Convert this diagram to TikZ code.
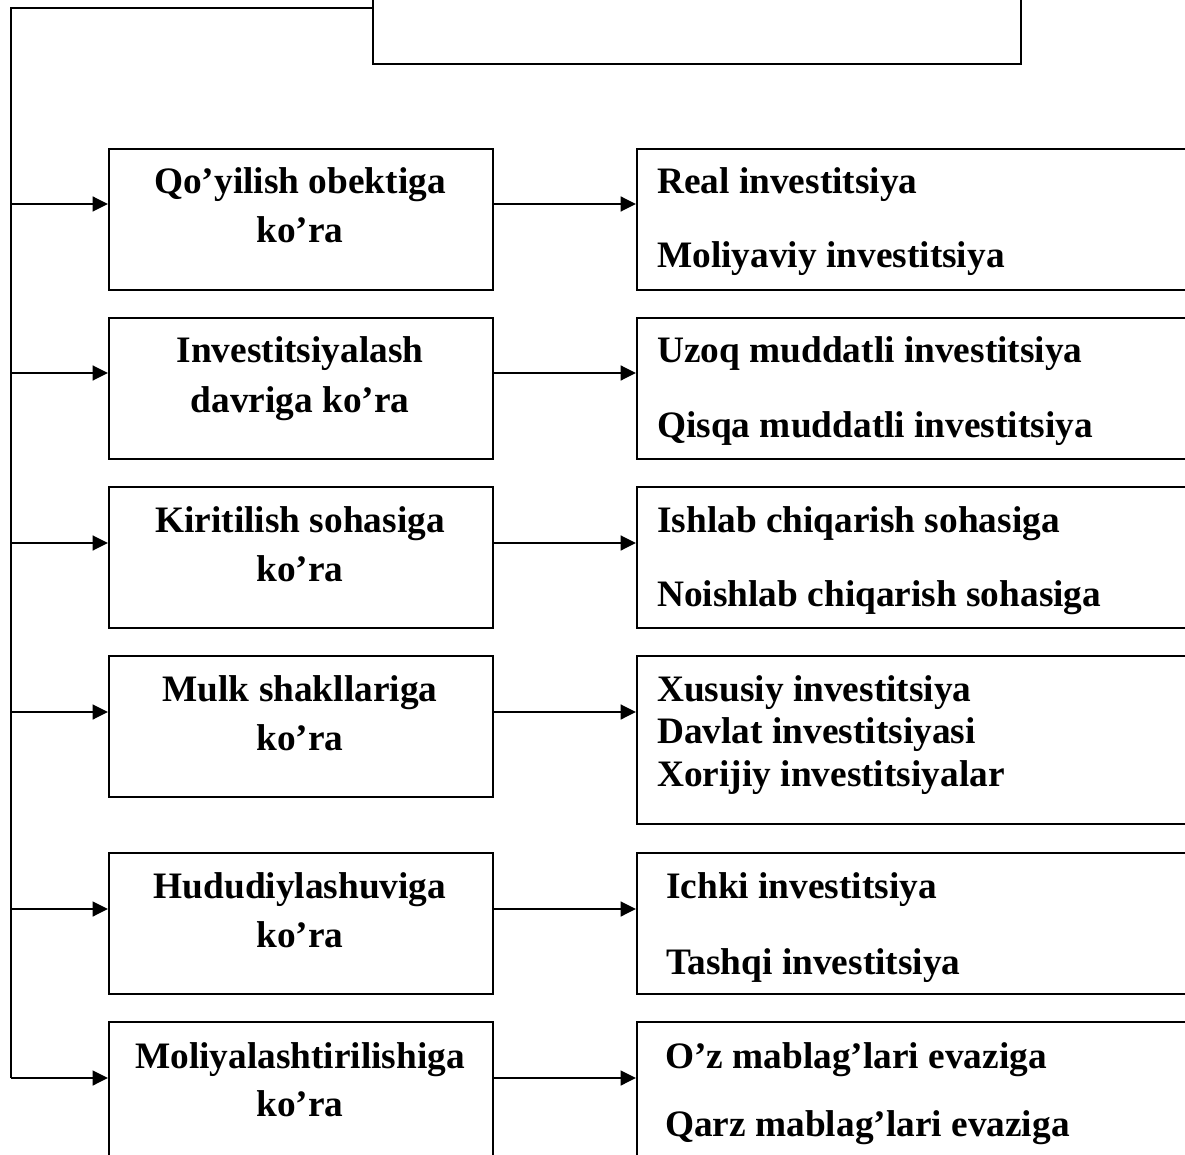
\documentclass[tikz,border=0pt]{standalone}
\usepackage{fontspec}
\setmainfont{Liberation Serif}
\usetikzlibrary{arrows.meta}
\begin{document}
\begin{tikzpicture}[x=0.75pt,y=-0.75pt,
  box/.style={draw, line width=1.5pt, inner sep=0pt, anchor=north west, minimum width=288pt, minimum height=105.75pt},
  rbox/.style={box, minimum width=419.25pt},
  lbl/.style={inner sep=0pt, font=\bfseries\fontsize{28}{34}\selectfont},
  cl/.style={lbl, anchor=base},
  rl/.style={lbl, anchor=base west},
  arr/.style={line width=1.8pt, -{Triangle[length=11.5pt,width=11pt]}},
  trunk/.style={line width=1.4pt}]
\useasboundingbox (0,0) rectangle (1185,1155);
\clip (0,0) rectangle (1185,1155);

% top box
\node[box, minimum width=486pt, minimum height=54.75pt] (T) at (372,-10) {};

% left boxes
\node[box] (L1) at (108,148) {};
\node[box] (L2) at (108,317) {};
\node[box] (L3) at (108,486) {};
\node[box] (L4) at (108,655) {};
\node[box] (L5) at (108,852) {};
\node[box] (L6) at (108,1021) {};

% right boxes
\node[rbox] (R1) at (636,148) {};
\node[rbox] (R2) at (636,317) {};
\node[rbox] (R3) at (636,486) {};
\node[rbox, minimum height=126pt] (R4) at (636,655) {};
\node[rbox] (R5) at (636,852) {};
\node[rbox] (R6) at (636,1021) {};

% trunk
\coordinate (c0) at (11,8);
\coordinate (a1) at (11,204);
\coordinate (a2) at (11,373);
\coordinate (a3) at (11,543);
\coordinate (a4) at (11,712);
\coordinate (a5) at (11,909);
\coordinate (a6) at (11,1078);
\draw[trunk] (T.west |- c0) -- (c0) -- (a6);

% arrows
\foreach \i in {1,...,6}{
  \draw[arr] (a\i) -- (a\i -| L\i.west);
  \draw[arr] (a\i -| L\i.east) -- (a\i -| R\i.west);
}

% left labels
\node[cl] (l1a) at (300,194) {Qo’yilish obektiga};
\node[cl] (l1b) at (300,243) {ko’ra};
\node[cl] (l2a) at (300,363) {Investitsiyalash};
\node[cl] (l2b) at (300,412) {davriga ko’ra};
\node[cl] (l3a) at (300,532) {Kiritilish sohasiga};
\node[cl] (l3b) at (300,581) {ko’ra};
\node[cl] (l4a) at (300,701) {Mulk shakllariga};
\node[cl] (l4b) at (300,750) {ko’ra};
\node[cl] (l5a) at (300,898) {Hududiylashuviga};
\node[cl] (l5b) at (300,947) {ko’ra};
\node[cl] (l6a) at (300,1068) {Moliyalashtirilishiga};
\node[cl] (l6b) at (300,1116) {ko’ra};

% right labels
\node[rl] (r1a) at (657,194) {Real investitsiya};
\node[rl] (r1b) at (657,268) {Moliyaviy investitsiya};
\node[rl] (r2a) at (657,363) {Uzoq muddatli investitsiya};
\node[rl] (r2b) at (657,437) {Qisqa muddatli investitsiya};
\node[rl] (r3a) at (657,532) {Ishlab chiqarish sohasiga};
\node[rl] (r3b) at (657,606) {Noishlab chiqarish sohasiga};
\node[rl] (r4a) at (657,701) {Xususiy investitsiya};
\node[rl] (r4b) at (657,743) {Davlat investitsiyasi};
\node[rl] (r4c) at (657,786) {Xorijiy investitsiyalar};
\node[rl] (r5a) at (666,898) {Ichki investitsiya};
\node[rl] (r5b) at (666,974) {Tashqi investitsiya};
\node[rl] (r6a) at (665,1068) {O’z mablag’lari evaziga};
\node[rl] (r6b) at (665,1136) {Qarz mablag’lari evaziga};
\end{tikzpicture}
\end{document}
